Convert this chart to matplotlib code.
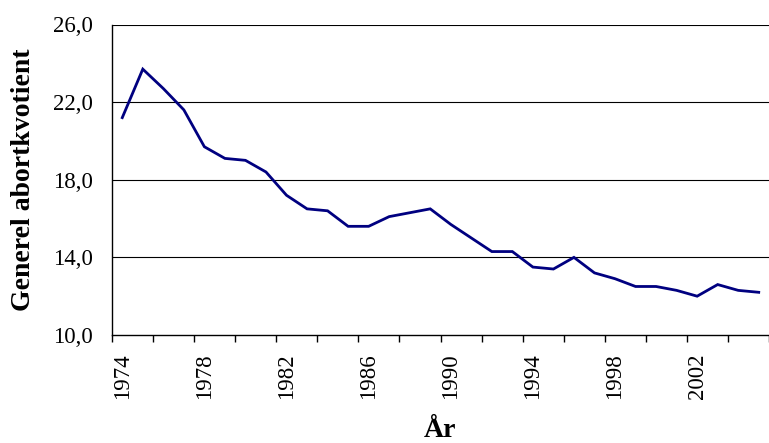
import matplotlib
matplotlib.use('Agg')
import matplotlib.pyplot as plt
import numpy as np

# generel abortkvotient pr. år
years = list(range(1974, 2006))
values = [21.2, 23.7, 22.7, 21.6, 19.7, 19.1, 19.0, 18.4, 17.2, 16.5,
          16.4, 15.6, 15.6, 16.1, 16.3, 16.5, 15.7, 15.0, 14.3, 14.3,
          13.5, 13.4, 14.0, 13.2, 12.9, 12.5, 12.5, 12.3, 12.0, 12.6,
          12.3, 12.2]
y_ticks = [10, 14, 18, 22, 26]

plt.rcParams['font.family'] = ['Liberation Serif', 'DejaVu Serif']

W, H = 769, 443
fig = plt.figure(figsize=(W / 100, H / 100), dpi=100)
ax = fig.add_axes([112 / W, 1 - 335 / H, (W - 112) / W, (335 - 24.5) / H])

x = np.arange(len(years))
ax.plot(x, values, color='#000080', lw=2.0, solid_joinstyle='miter')

ax.set_xlim(-0.5, 31.13)
ax.set_ylim(10, 26)

ax.set_yticks(y_ticks)
ax.set_yticklabels([f"{v:.1f}".replace('.', ',') for v in y_ticks], fontsize=16.5)
ax.tick_params(axis='y', length=0, pad=14)
for v in y_ticks[1:]:
    ax.axhline(v, color='black', lw=0.8, zorder=0)

# ticks mellem hver anden kategori, etiket hvert fjerde år
ax.set_xticks(np.arange(-0.5, 31.6, 2))
ax.set_xticklabels([])
ax.tick_params(axis='x', which='major', length=5, width=1, direction='out')
ax.set_xticks(x[::4], minor=True)
ax.set_xticklabels([str(y) for y in years[::4]], minor=True, rotation=90, fontsize=16.5)
ax.tick_params(axis='x', which='minor', length=0, pad=13)

ax.set_xlabel('År', fontsize=20, fontweight='bold', labelpad=14)
ax.set_ylabel('Generel abortkvotient', fontsize=20, fontweight='bold', labelpad=12)

for s in ['top', 'right']:
    ax.spines[s].set_visible(False)
ax.spines['left'].set_linewidth(1)
ax.spines['bottom'].set_linewidth(1)

fig.savefig('out.png', dpi=100)
